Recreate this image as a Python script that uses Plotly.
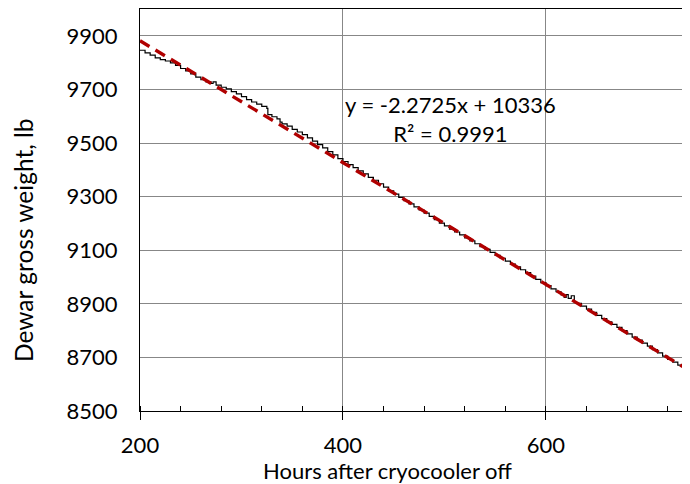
import plotly.graph_objects as go

hours = [200, 205, 210, 215, 220, 225, 230, 235, 240, 245, 250, 255, 260, 265, 270,
         272, 275, 280, 285, 290, 295, 300, 305, 310, 315, 320, 325, 326, 330, 335,
         338, 340, 345, 350, 355, 360, 365, 370, 375, 380, 385, 390, 395, 400, 405,
         410, 415, 420, 425, 430, 435, 440, 445, 450, 455, 460, 465, 470, 475, 480,
         485, 490, 495, 500, 505, 510, 515, 520, 525, 530, 535, 540, 545, 550, 555,
         560, 565, 570, 575, 580, 585, 590, 595, 600, 605, 610, 615, 618, 620, 622,
         625, 628, 630, 635, 640, 645, 650, 655, 660, 665, 670, 675, 680, 685, 690,
         695, 700, 705, 710, 715, 720, 725, 730, 735, 742]
weight = [9846, 9836, 9828, 9818, 9811, 9806, 9799, 9790, 9778, 9769, 9758, 9746, 9736, 9728, 9722,
          9728, 9716, 9708, 9702, 9692, 9683, 9673, 9662, 9653, 9645, 9637, 9629, 9606, 9598, 9590,
          9578, 9571, 9563, 9551, 9541, 9531, 9519, 9507, 9494, 9482, 9468, 9456, 9442, 9431, 9419,
          9408, 9396, 9385, 9372, 9361, 9348, 9335, 9321, 9309, 9297, 9285, 9273, 9262, 9250, 9238,
          9226, 9214, 9201, 9191, 9179, 9168, 9157, 9146, 9135, 9124, 9113, 9103, 9092, 9081, 9070,
          9059, 9048, 9038, 9027, 9016, 9003, 8991, 8979, 8968, 8956, 8945, 8933, 8924, 8934, 8920,
          8930, 8908, 8902, 8891, 8880, 8868, 8857, 8845, 8833, 8823, 8812, 8800, 8788, 8776, 8765,
          8753, 8742, 8729, 8717, 8705, 8693, 8682, 8671, 8661, 8651]

# Linear trendline from the chart's equation
fit_slope = -2.2725
fit_intercept = 10336
fit_x = [200, 742]
fit_y = [fit_slope * x + fit_intercept for x in fit_x]

y_ticks = [8500, 8700, 8900, 9100, 9300, 9500, 9700, 9900]
x_ticks = [200, 400, 600]

font_family = "Lato, 'Open Sans', sans-serif"

fig = go.Figure()
fig.add_trace(go.Scatter(x=hours, y=weight, mode="lines",
                         line=dict(color="black", width=1.2, shape="hv"), showlegend=False))
fig.add_trace(go.Scatter(x=fit_x, y=fit_y, mode="lines",
                         line=dict(color="#B00000", width=3.4, dash="11px,7px"),
                         showlegend=False))

fig.add_annotation(x=506, y=9590, xref="x", yref="y", showarrow=False,
                   text="y = -2.2725x + 10336<br>R² = 0.9991",
                   font=dict(family=font_family, size=22, color="black"),
                   align="center")

# Axis titles
fig.add_annotation(x=-0.213, y=0.425, xref="paper", yref="paper", showarrow=False,
                   text="Dewar gross weight, lb", textangle=-90,
                   xanchor="center", yanchor="middle",
                   font=dict(family=font_family, size=24.5, color="black"))
fig.add_annotation(x=0.45, y=-0.149, xref="paper", yref="paper", showarrow=False,
                   text="Hours after cryocooler off",
                   xanchor="center", yanchor="middle",
                   font=dict(family=font_family, size=22, color="black"))

# page body adds an 8px offset, so the figure is sized to fit the 690x484 window
fig.update_layout(
    width=682, height=476,
    margin=dict(l=132, r=0, t=1, b=73),
    paper_bgcolor="white", plot_bgcolor="white",
    font=dict(family=font_family, color="black"),
)
fig.update_xaxes(
    range=[200, 742], tickvals=x_ticks, ticktext=[str(v) for v in x_ticks],
    showgrid=True, gridcolor="#878787", gridwidth=1,
    showline=True, linecolor="black", linewidth=1.2, mirror=True,
    ticks="outside", ticklen=8, tickcolor="black", tickwidth=1,
    tickfont=dict(size=22), ticklabelstandoff=6, zeroline=False, automargin=False,
    minor=dict(ticks="inside", ticklen=5, dtick=40, tick0=200, tickcolor="black",
               showgrid=False),
)
fig.update_yaxes(
    range=[8500, 10000], tickvals=y_ticks, ticktext=[str(v) for v in y_ticks],
    showgrid=True, gridcolor="#878787", gridwidth=1,
    showline=True, linecolor="black", linewidth=1.2,
    ticks="", tickfont=dict(size=22), ticklabelstandoff=17, zeroline=False,
    automargin=False,
)

fig.write_html("out.html")
